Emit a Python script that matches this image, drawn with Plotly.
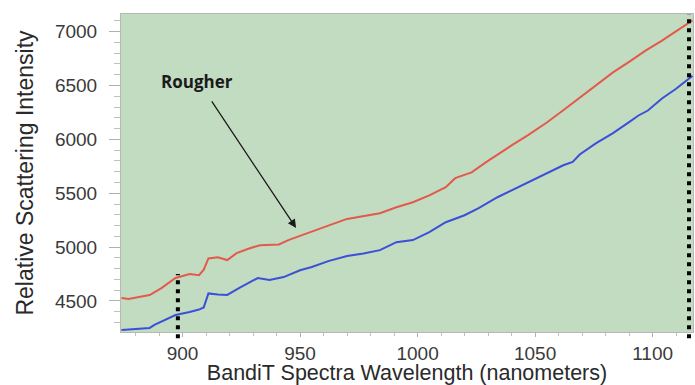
import plotly.graph_objects as go

# Data
red_wl = [874, 877, 882, 886, 891, 897, 903, 907, 909, 911, 915, 919, 923, 928, 933, 941, 945, 950, 955,
          962, 970, 977, 984, 991, 998, 1005, 1012, 1016, 1023, 1029, 1034, 1040, 1047, 1055, 1062, 1069,
          1076, 1083, 1090, 1097, 1104, 1110, 1117]
red_int = [4528, 4518, 4540, 4555, 4620, 4713, 4750, 4740, 4790, 4895, 4905, 4880, 4944, 4985, 5018, 5025,
           5065, 5105, 5150, 5200, 5262, 5290, 5315, 5370, 5417, 5481, 5556, 5640, 5694, 5787, 5860, 5944,
           6040, 6157, 6270, 6389, 6505, 6620, 6720, 6824, 6917, 7005, 7105]

blue_wl = [874, 880, 886, 888, 892, 897, 903, 907, 909, 911, 915, 919, 924, 928, 932, 937, 943, 950, 955,
           962, 970, 977, 984, 991, 998, 1005, 1012, 1020, 1026, 1034, 1040, 1047, 1055, 1062, 1066, 1069,
           1076, 1083, 1090, 1094, 1098, 1104, 1110, 1117]
blue_int = [4231, 4240, 4250, 4278, 4320, 4370, 4398, 4420, 4440, 4570, 4560, 4556, 4620, 4670, 4713, 4694,
            4722, 4785, 4815, 4870, 4917, 4940, 4972, 5046, 5065, 5139, 5231, 5296, 5361, 5463, 5528, 5600,
            5685, 5760, 5790, 5860, 5965, 6056, 6160, 6222, 6268, 6380, 6470, 6590]

marker_wl = [898, 1115.5]          # dotted vertical markers
marker_top = [4750, None]          # top intensity of each marker (None = full height)

label_text = "Rougher"
label_pos = (906, 6533)
arrow_tail = (912, 6366)
arrow_head = (948.3, 5178)

x_range = [873.8, 1117.2]
y_range = [4212, 7164]

fig = go.Figure()
fig.add_trace(go.Scatter(x=red_wl, y=red_int, mode="lines",
                         line=dict(color="#e35a4c", width=2), showlegend=False))
fig.add_trace(go.Scatter(x=blue_wl, y=blue_int, mode="lines",
                         line=dict(color="#3c4fd8", width=2), showlegend=False))

ylo, yhi = y_range
for wl, top in zip(marker_wl, marker_top):
    y1 = 1.0 if top is None else (top - ylo) / (yhi - ylo)
    fig.add_shape(type="line", xref="x", yref="paper", x0=wl, x1=wl, y0=-0.02, y1=y1,
                  line=dict(color="black", width=4, dash="4px,5px"))

fig.add_annotation(x=arrow_head[0], y=arrow_head[1], ax=arrow_tail[0], ay=arrow_tail[1],
                   axref="x", ayref="y", xref="x", yref="y", text="", showarrow=True,
                   arrowhead=2, arrowsize=1.3, arrowwidth=1.3, arrowcolor="#1a1a1a")
fig.add_annotation(x=label_pos[0], y=label_pos[1], xref="x", yref="y", text="<b>%s</b>" % label_text,
                   showarrow=False, font=dict(family="Open Sans", size=17, color="#1a1a1a"))

fig.update_layout(
    width=695, height=385,
    margin=dict(l=121, r=2, t=14, b=53),
    paper_bgcolor="white", plot_bgcolor="#c2dcc1",
    font=dict(family="Liberation Sans, Arial, sans-serif", color="#333333"),
)
fig.update_xaxes(range=x_range, tickmode="linear", tick0=900, dtick=50,
                 ticks="outside", ticklen=4, tickcolor="#b0b0b0",
                 minor=dict(dtick=10, tick0=900, ticks="outside", ticklen=3, tickcolor="#c0c0c0"),
                 showgrid=False, zeroline=False, showline=True, linecolor="#b8b8b8", mirror=True,
                 tickfont=dict(size=19, color="#3a3a3a"),
                 title=dict(text="BandiT Spectra Wavelength (nanometers)", font=dict(size=21.5, color="#2a2a2a"),
                            standoff=0))
fig.update_yaxes(range=y_range, tickmode="linear", tick0=4500, dtick=500,
                 ticks="outside", ticklen=11, tickcolor="#b0b0b0",
                 minor=dict(dtick=100, tick0=4500, ticks="outside", ticklen=6, tickcolor="#c0c0c0"),
                 showgrid=False, zeroline=False, showline=True, linecolor="#b8b8b8", mirror=True,
                 tickfont=dict(size=19, color="#3a3a3a"), ticklabelstandoff=8,
                 title=dict(text="Relative Scattering Intensity", font=dict(size=23, color="#2a2a2a"),
                            standoff=14))

fig.write_html("out.html")
